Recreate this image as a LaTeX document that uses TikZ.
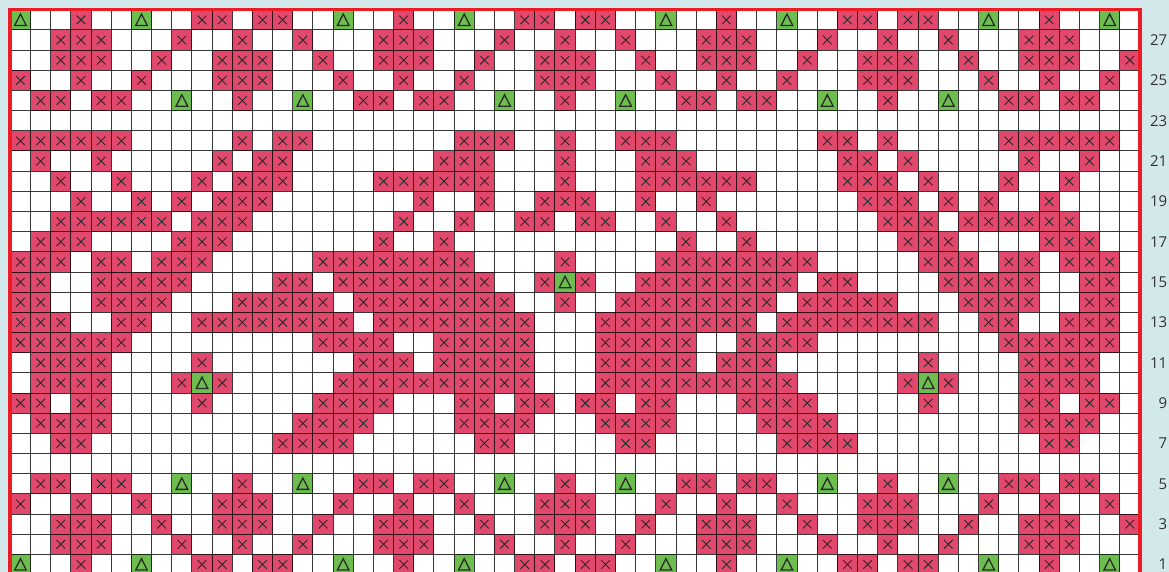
\documentclass[tikz,border=0pt]{standalone}
\usepackage{fontspec}
\setmainfont{Open Sans}
\definecolor{bgcol}{HTML}{D2E8EA}
\definecolor{crosscol}{HTML}{E2486B}
\definecolor{tricol}{HTML}{6DBE4E}
\definecolor{framecol}{HTML}{EC1C24}
\definecolor{inkcol}{HTML}{2A2A2A}
\definecolor{labcol}{HTML}{333333}
\tikzset{
  crossfill/.style={fill=crosscol},
  trifill/.style={fill=tricol},
  crossline/.style={draw=inkcol,line width=0.9pt},
  triline/.style={draw=inkcol,line width=1.3pt,line join=miter},
  gridline/.style={draw=black,opacity=0.78,line width=1pt},
  frameline/.style={draw=framecol,line width=3.8pt},
  lbl/.style={anchor=east,text=labcol,font=\fontsize{15}{15}\selectfont,inner sep=0pt}
}
\newcommand\markX[2]{%
  \pgfmathsetmacro\mcx{10.4+(#2-0.5)*20.17}%
  \pgfmathsetmacro\mcy{9.8+(28.5-#1)*20.17}%
  \fill[crossfill] (\mcx-10.085,\mcy-10.085) rectangle (\mcx+10.085,\mcy+10.085);%
  \draw[crossline] (\mcx-4.3,\mcy-4.3) -- (\mcx+4.3,\mcy+4.3) (\mcx-4.3,\mcy+4.3) -- (\mcx+4.3,\mcy-4.3);%
}
\newcommand\markT[2]{%
  \pgfmathsetmacro\mcx{10.4+(#2-0.5)*20.17}%
  \pgfmathsetmacro\mcy{9.8+(28.5-#1)*20.17}%
  \fill[trifill] (\mcx-10.085,\mcy-10.085) rectangle (\mcx+10.085,\mcy+10.085);%
  \draw[triline] (\mcx,\mcy-5.8) -- (\mcx+5.8,\mcy+5.6) -- (\mcx-5.8,\mcy+5.6) -- cycle;%
}
\newcommand\rowX[2]{\foreach \cc in {#2}{\markX{#1}{\cc}}}
\newcommand\rowT[2]{\foreach \cc in {#2}{\markT{#1}{\cc}}}
\begin{document}
\begin{tikzpicture}[x=1pt,y=-1pt]
\useasboundingbox (0,0) rectangle (1169,572);
\clip (0,0) rectangle (1169,572);
\fill[bgcol] (0,0) rectangle (1169,572);
\fill[white] (10.4,9.8) rectangle (1140,574.6);
% border rows (top)
\rowX{28}{4,10,11,13,14,20,26,27,29,30,36,42,43,45,46,52}
\rowT{28}{1,7,17,23,33,39,49,55}
\rowX{27}{3,4,5,9,12,15,19,20,21,25,28,31,35,36,37,41,44,47,51,52,53}
\rowX{26}{3,4,5,8,11,12,13,16,19,20,21,24,27,28,29,32,35,36,37,40,43,44,45,48,51,52,53,56}
\rowX{25}{1,4,7,11,12,13,17,20,23,27,28,29,33,36,39,43,44,45,49,52,55}
\rowX{24}{2,3,5,6,12,18,19,21,22,28,34,35,37,38,44,50,51,53,54}
\rowT{24}{9,15,25,31,41,47}
% main motif
\rowX{22}{1,2,3,4,5,6,12,14,15,23,24,25,28,31,32,33,41,42,44,50,51,52,53,54,55}
\rowX{21}{2,5,11,13,14,22,23,24,28,32,33,34,42,43,45,51,54}
\rowX{20}{3,6,10,12,13,14,19,20,21,22,23,24,28,32,33,34,35,36,37,42,43,44,46,50,53}
\rowX{19}{4,7,9,11,12,13,21,24,27,28,29,32,35,43,44,45,47,49,52}
\rowX{18}{3,4,5,6,7,8,10,11,12,20,23,26,27,29,30,33,36,44,45,46,48,49,50,51,52,53}
\rowX{17}{2,3,4,9,10,11,19,22,34,37,45,46,47,52,53,54}
\rowX{16}{1,2,3,5,6,8,9,10,16,17,18,19,20,21,22,23,28,33,34,35,36,37,38,39,40,46,47,48,50,51,53,54,55}
\rowX{15}{1,2,5,6,7,8,9,14,15,17,18,19,20,21,22,23,24,27,29,32,33,34,35,36,37,38,39,41,42,47,48,49,50,51,54,55}
\rowT{15}{28}
\rowX{14}{1,2,5,6,7,8,12,13,14,15,16,18,19,20,21,22,23,24,25,28,31,32,33,34,35,36,37,38,40,41,42,43,44,48,49,50,51,54,55}
\rowX{13}{1,2,3,6,7,10,11,12,13,14,15,16,17,19,20,21,22,23,24,25,26,30,31,32,33,34,35,36,37,39,40,41,42,43,44,45,46,49,50,53,54,55}
\rowX{12}{1,2,3,4,5,6,16,17,18,19,22,23,24,25,26,30,31,32,33,34,37,38,39,40,50,51,52,53,54,55}
\rowX{11}{2,3,4,5,10,18,19,20,22,23,24,25,26,30,31,32,33,34,36,37,38,46,51,52,53,54}
\rowX{10}{2,3,4,5,9,11,17,18,19,20,21,22,23,24,25,26,30,31,32,33,34,35,36,37,38,39,45,47,51,52,53,54}
\rowT{10}{10,46}
\rowX{9}{1,2,4,5,10,16,17,18,19,23,24,26,27,29,30,32,33,37,38,39,40,46,51,52,54,55}
\rowX{8}{2,3,4,5,15,16,17,18,23,24,25,26,30,31,32,33,38,39,40,41,51,52,53,54}
\rowX{7}{3,4,14,15,16,17,24,25,31,32,39,40,41,42,52,53}
% border rows (bottom)
\rowX{5}{2,3,5,6,12,18,19,21,22,28,34,35,37,38,44,50,51,53,54}
\rowT{5}{9,15,25,31,41,47}
\rowX{4}{1,4,7,11,12,13,17,20,23,27,28,29,33,36,39,43,44,45,49,52,55}
\rowX{3}{3,4,5,8,11,12,13,16,19,20,21,24,27,28,29,32,35,36,37,40,43,44,45,48,51,52,53,56}
\rowX{2}{3,4,5,9,12,15,19,20,21,25,28,31,35,36,37,41,44,47,51,52,53}
\rowX{1}{4,10,11,13,14,20,26,27,29,30,36,42,43,45,46,52}
\rowT{1}{1,7,17,23,33,39,49,55}
% grid
\foreach \k in {0,...,56} \draw[gridline] ({10.4+\k*20.17},9.8) -- ({10.4+\k*20.17},574.6);
\foreach \k in {0,...,28} \draw[gridline] (10.4,{9.8+\k*20.17}) -- (1140,{9.8+\k*20.17});
% frame
\draw[frameline] (10.3,9.5) rectangle (1140,575);
% row labels
\foreach \n in {1,3,...,27} \node[lbl] (lab\n) at (1167.5,{9.8+(28.5-\n)*20.17}) {\n};
\end{tikzpicture}
\end{document}
